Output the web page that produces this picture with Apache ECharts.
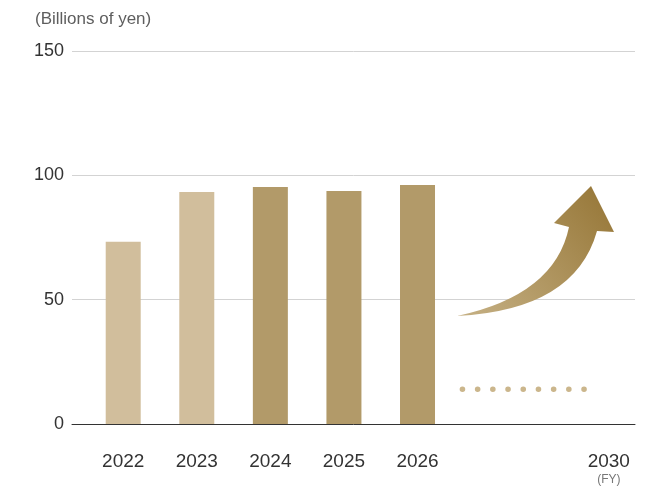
<!DOCTYPE html>
<html>
<head>
<meta charset="utf-8">
<script src="https://cdn.jsdelivr.net/npm/echarts@6/dist/echarts.min.js"></script>
<style>html,body{margin:0;padding:0;background:#fff}#c{width:658px;height:490px}</style>
</head>
<body>
<div id="c"></div>
<script>
// ---- data ----
var years = [2022, 2023, 2024, 2025, 2026];
var values = [73.3, 93.3, 95.3, 93.7, 96.1];
var barColors = ['#d1be9c', '#d1be9c', '#b29a69', '#b29a69', '#b29a69'];
var yTicks = [0, 50, 100, 150];
var targetLabel = '2030';
var targetPos = 2028.6;          // axis position of the target-year label
var dotLevel = 14;               // dotted line level
var dotStart = 2026.61, dotEnd = 2028.27;
var unitLabel = '(Billions of yen)';
var fyLabel = '(FY)';

var FONT = '"Liberation Sans", Arial, sans-serif';
var chart = echarts.init(document.getElementById('c'), null, {renderer: 'canvas'});

var labelValues = years.concat([targetPos]);
var ARROW = 'M457 316 Q555 295 569 227 L554 223 L591 186 L614 232 L597 231 Q575 310 457 316 Z';

chart.setOption({
  animation: false,
  backgroundColor: '#fff',
  title: {
    text: unitLabel, left: 30, top: 6,
    textStyle: {fontFamily: FONT, fontSize: 17, fontWeight: 'normal', color: '#5e5e5e'}
  },
  grid: {left: 72, right: 23, top: 51, bottom: 66},
  xAxis: {
    type: 'value', min: 2021.304, max: 2028.956,
    splitLine: {show: false},
    axisTick: {show: false},
    axisLine: {show: true, lineStyle: {color: '#333', width: 1}},
    axisLabel: {
      customValues: labelValues,
      margin: 29,
      fontFamily: FONT, fontSize: 19, color: '#333', lineHeight: 18,
      formatter: function (v) {
        if (Math.abs(v - targetPos) < 0.01) return targetLabel + '\n{fy|' + fyLabel + '}';
        return String(Math.round(v));
      },
      rich: {fy: {fontFamily: FONT, fontSize: 12, color: '#777', lineHeight: 18}}
    }
  },
  yAxis: {
    type: 'value', min: yTicks[0], max: yTicks[yTicks.length - 1], interval: 50,
    axisLine: {show: false}, axisTick: {show: false},
    splitLine: {show: true, lineStyle: {color: '#d3d3d3', width: 1}},
    axisLabel: {margin: 8, fontFamily: FONT, fontSize: 18, color: '#333'}
  },
  series: [
    {
      type: 'bar', barWidth: 35,
      data: years.map(function (y, i) {
        return {value: [y, values[i]], itemStyle: {color: barColors[i]}};
      })
    },
    {
      type: 'line', symbol: 'none', silent: true,
      data: [[dotStart, dotLevel], [dotEnd, dotLevel]],
      lineStyle: {color: '#cbb68c', width: 5.5, type: [0.1, 15.1], cap: 'round'}
    },
    {
      type: 'custom', coordinateSystem: 'none', silent: true, data: [0],
      renderItem: function () {
        return {
          type: 'path',
          shape: {pathData: ARROW},
          style: {
            fill: {
              type: 'linear', x: 1, y: 0, x2: 0, y2: 1,
              colorStops: [{offset: 0, color: '#957535'}, {offset: 1, color: '#c6b185'}]
            }
          }
        };
      }
    }
  ]
});
</script>
</body>
</html>
